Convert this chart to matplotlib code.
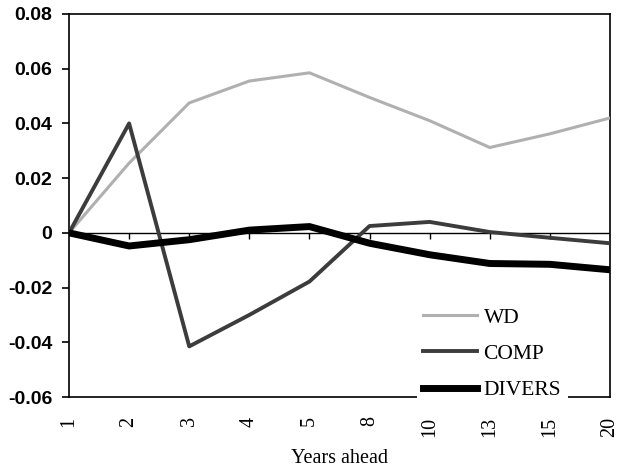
import matplotlib
matplotlib.use('Agg')
import matplotlib.pyplot as plt
import matplotlib.transforms as mtransforms
import numpy as np

# Forecast horizons (equally spaced categories) and the three series
years = ['1', '2', '3', '4', '5', '8', '10', '13', '15', '20']
wd = [0.0, 0.0255, 0.0475, 0.0555, 0.0585, 0.0495, 0.0410, 0.0312, 0.0362, 0.0420]
comp = [0.0, 0.0400, -0.0415, -0.0300, -0.0178, 0.0025, 0.0040, 0.0003, -0.0018, -0.0038]
divers = [0.0, -0.0048, -0.0025, 0.0010, 0.0023, -0.0038, -0.0080, -0.0112, -0.0115, -0.0135]

x = np.arange(len(years))

fig = plt.figure(figsize=(6.19, 4.71), dpi=100)
ax = fig.add_axes([69 / 619, 1 - 397 / 471, 541 / 619, 383 / 471])

ax.plot(x, wd, color='#b0b0b0', lw=2.2, label='WD', zorder=3)
ax.plot(x, comp, color='#3c3c3c', lw=2.8, label='COMP', zorder=4)
ax.plot(x, divers, color='black', lw=5.0, label='DIVERS', zorder=5)

ax.set_xlim(x[0], x[-1])
ax.set_ylim(-0.06, 0.08)

# zero line with category ticks hanging below it
ax.axhline(0, color='black', lw=1.0, zorder=2)
trans = mtransforms.blended_transform_factory(ax.transData, ax.transAxes)
zero_frac = 0.06 / 0.14
ax.vlines(x[1:-1], zero_frac - 0.016, zero_frac, color='black', lw=1.0,
          transform=trans, zorder=2)

for side in ['top', 'right', 'bottom', 'left']:
    ax.spines[side].set_linewidth(1.2)

ax.set_yticks(np.arange(-0.06, 0.081, 0.02))
ax.set_yticklabels(['-0.06', '-0.04', '-0.02', '0', '0.02', '0.04', '0.06', '0.08'],
                   fontfamily='Liberation Sans', fontsize=14, fontweight='bold')
ax.tick_params(axis='y', direction='out', length=5, width=1.2, pad=7)

ax.set_xticks(x)
ax.set_xticklabels(years, rotation=90, fontfamily='Liberation Serif', fontsize=14.5,
                   va='top', ha='center')
ax.tick_params(axis='x', length=0, pad=14)

ax.set_xlabel('Years ahead', fontfamily='Liberation Serif', fontsize=14.5, labelpad=9)

leg = ax.legend(loc='lower left', bbox_to_anchor=(0.643, -0.025),
                prop={'family': 'Liberation Serif', 'size': 15.5},
                frameon=True, fancybox=False, edgecolor='none', facecolor='white',
                framealpha=1.0, handlelength=2.5, handletextpad=0.3,
                labelspacing=0.75, borderpad=0.3, borderaxespad=0)
leg.set_zorder(10)

fig.savefig('out.png', dpi=100)
